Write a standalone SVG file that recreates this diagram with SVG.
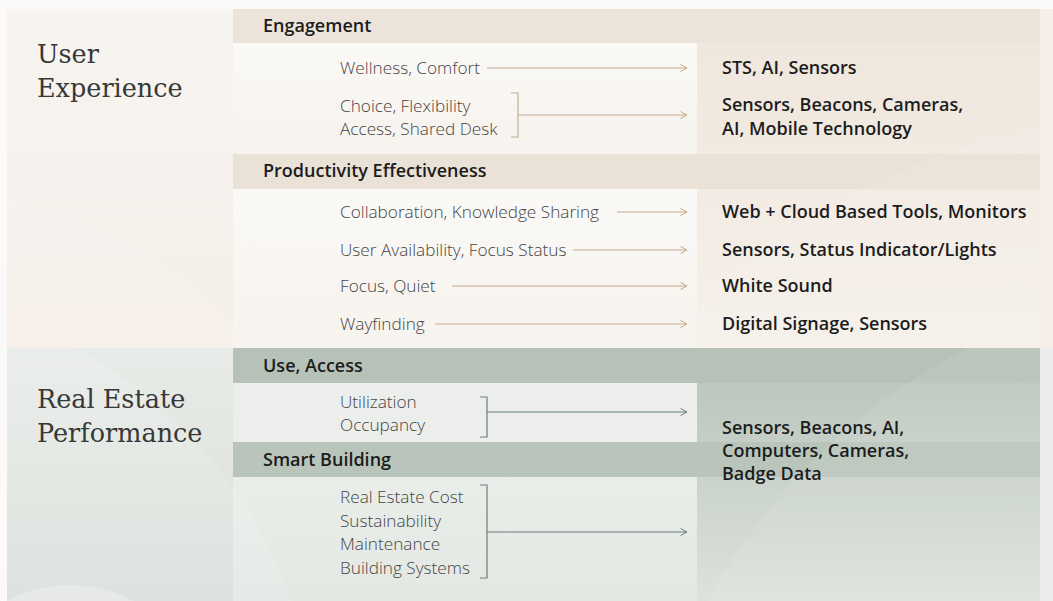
<svg xmlns="http://www.w3.org/2000/svg" width="1053" height="601" viewBox="0 0 1053 601">
  <defs>
    <linearGradient id="topRight" x1="0" y1="0" x2="0" y2="1">
      <stop offset="0" stop-color="#efe6dc"/>
      <stop offset="1" stop-color="#f6f0ea"/>
    </linearGradient>
    <linearGradient id="topLeft" x1="0" y1="0" x2="0" y2="1">
      <stop offset="0" stop-color="#f7f5f1"/>
      <stop offset="1" stop-color="#f5eee8"/>
    </linearGradient>
    <linearGradient id="botRight" x1="0" y1="0" x2="0" y2="1">
      <stop offset="0" stop-color="#b7c3b9"/>
      <stop offset="1" stop-color="#dce2dc"/>
    </linearGradient>
    <linearGradient id="botLeft" x1="0" y1="0" x2="0" y2="1">
      <stop offset="0" stop-color="#e8ece8"/>
      <stop offset="1" stop-color="#dadfda"/>
    </linearGradient>
    <linearGradient id="boxTop" x1="0" y1="0" x2="0" y2="1">
      <stop offset="0" stop-color="#faf9f6"/>
      <stop offset="1" stop-color="#f7f3ee"/>
    </linearGradient>
    <linearGradient id="boxBot" x1="0" y1="0" x2="0" y2="1">
      <stop offset="0" stop-color="#eaeeea"/>
      <stop offset="1" stop-color="#e3e8e3"/>
    </linearGradient>
    <clipPath id="topClip"><rect x="7" y="9" width="1033" height="339"/></clipPath>
    <clipPath id="botClip"><rect x="7" y="348" width="1033" height="253"/></clipPath>
    <marker id="headBeige" markerWidth="10" markerHeight="10" refX="8" refY="5" orient="auto" markerUnits="userSpaceOnUse">
      <path d="M1.5,1.5 L8,5 L1.5,8.5" fill="none" stroke="#c6ab8f" stroke-width="1"/>
    </marker>
    <marker id="headSage" markerWidth="10" markerHeight="10" refX="8" refY="5" orient="auto" markerUnits="userSpaceOnUse">
      <path d="M1.5,1.5 L8,5 L1.5,8.5" fill="none" stroke="#6a7f78" stroke-width="1"/>
    </marker>
  </defs>
  <style>
    .title { font-family: "DejaVu Serif", "Liberation Serif", serif; font-size: 25.5px; fill: #383838; }
    .head { font-family: "Open Sans", "Noto Sans", sans-serif; font-weight: 600; font-size: 18px; fill: #1c1c1c; }
    .item { font-family: "Open Sans", "Noto Sans", sans-serif; font-weight: 300; font-size: 17.2px; fill: #454545; }
    .tech { font-family: "Open Sans", "Noto Sans", sans-serif; font-weight: 600; font-size: 18px; fill: #1c1c1c; }
    .beige { stroke: #c6ab8f; stroke-width: 1.2; fill: none; }
    .sage { stroke: #6a7f78; stroke-width: 1.2; fill: none; }
    .arrowBeige { marker-end: url(#headBeige); }
    .arrowSage { marker-end: url(#headSage); }
  </style>

  <!-- page and section panels -->
  <g id="background">
    <rect x="0" y="0" width="1053" height="601" fill="#fbfaf8"/>
    <rect x="1040" y="9" width="13" height="339" fill="#f6efe9"/>
    <rect x="1040" y="348" width="13" height="253" fill="#eaede9"/>
    <rect x="7" y="9" width="1033" height="339" fill="url(#topRight)"/>
    <rect x="7" y="9" width="226" height="339" fill="url(#topLeft)"/>
    <rect x="7" y="348" width="1033" height="253" fill="url(#botRight)"/>
    <rect x="7" y="348" width="226" height="253" fill="url(#botLeft)"/>
  </g>

  <!-- category bars and item boxes -->
  <g id="bars">
    <rect x="233" y="9" width="807" height="34" fill="#ece4da"/>
    <rect x="233" y="43" width="464" height="111" fill="url(#boxTop)"/>
    <rect x="233" y="154" width="807" height="35" fill="#ebe2d7"/>
    <rect x="233" y="189" width="464" height="159" fill="url(#boxTop)"/>
    <rect x="233" y="348" width="807" height="35" fill="#b6c2b8"/>
    <rect x="233" y="383" width="464" height="59" fill="#ebeeeb"/>
    <rect x="233" y="442" width="807" height="35" fill="#b9c5bb"/>
    <rect x="233" y="477" width="464" height="124" fill="url(#boxBot)"/>
  </g>

  <!-- soft arcs in the backdrop -->
  <g id="arcs">
    <g clip-path="url(#topClip)">
      <circle cx="-120" cy="700" r="520" fill="#ffffff" opacity="0.10"/>
      <circle cx="1150" cy="760" r="640" fill="#ffffff" opacity="0.08"/>
    </g>
    <g clip-path="url(#botClip)">
      <circle cx="-150" cy="760" r="470" fill="#ffffff" opacity="0.12"/>
      <circle cx="70" cy="720" r="135" fill="#ffffff" opacity="0.25"/>
      <circle cx="1250" cy="900" r="620" fill="#ffffff" opacity="0.08"/>
    </g>
  </g>

  <!-- section titles -->
  <g id="user-experience">
    <text class="title" x="37" y="63">User</text>
    <text class="title" x="37" y="97">Experience</text>
  </g>
  <g id="real-estate-performance">
    <text class="title" x="37" y="408">Real Estate</text>
    <text class="title" x="37" y="442">Performance</text>
  </g>

  <!-- User Experience -->
  <g id="engagement">
    <text class="head" x="263" y="32">Engagement</text>
  </g>
  <g id="wellness">
    <text class="item" x="340" y="74">Wellness, Comfort</text>
  </g>
  <g id="wellness-tech">
    <text class="tech" x="722" y="74">STS, AI, Sensors</text>
  </g>
  <g id="choice">
    <text class="item" x="340" y="112">Choice, Flexibility</text>
    <text class="item" x="340" y="135">Access, Shared Desk</text>
  </g>
  <g id="choice-tech">
    <text class="tech" x="722" y="111">Sensors, Beacons, Cameras,</text>
    <text class="tech" x="722" y="135">AI, Mobile Technology</text>
  </g>

  <g id="productivity">
    <text class="head" x="263" y="177">Productivity Effectiveness</text>
  </g>
  <g id="collaboration">
    <text class="item" x="340" y="218">Collaboration, Knowledge Sharing</text>
  </g>
  <g id="collaboration-tech">
    <text class="tech" x="722" y="218">Web + Cloud Based Tools, Monitors</text>
  </g>
  <g id="availability">
    <text class="item" x="340" y="256">User Availability, Focus Status</text>
  </g>
  <g id="availability-tech">
    <text class="tech" x="722" y="256">Sensors, Status Indicator/Lights</text>
  </g>
  <g id="focus">
    <text class="item" x="340" y="292">Focus, Quiet</text>
  </g>
  <g id="focus-tech">
    <text class="tech" x="722" y="292">White Sound</text>
  </g>
  <g id="wayfinding">
    <text class="item" x="340" y="330">Wayfinding</text>
  </g>
  <g id="wayfinding-tech">
    <text class="tech" x="722" y="330">Digital Signage, Sensors</text>
  </g>

  <!-- Real Estate Performance -->
  <g id="use-access">
    <text class="head" x="263" y="372">Use, Access</text>
  </g>
  <g id="utilization">
    <text class="item" x="340" y="408">Utilization</text>
    <text class="item" x="340" y="431">Occupancy</text>
  </g>
  <g id="smart-building">
    <text class="head" x="263" y="466">Smart Building</text>
  </g>
  <g id="building-items">
    <text class="item" x="340" y="503">Real Estate Cost</text>
    <text class="item" x="340" y="526.5">Sustainability</text>
    <text class="item" x="340" y="550">Maintenance</text>
    <text class="item" x="340" y="573.5">Building Systems</text>
  </g>
  <g id="building-tech">
    <text class="tech" x="722" y="434">Sensors, Beacons, AI,</text>
    <text class="tech" x="722" y="457">Computers, Cameras,</text>
    <text class="tech" x="722" y="480">Badge Data</text>
  </g>

  <!-- connectors -->
  <g id="connectors">
    <line class="beige arrowBeige" x1="487" y1="68" x2="687" y2="68"/>
    <path class="beige" d="M511,93 H518 V137 H511"/>
    <line class="beige arrowBeige" x1="518" y1="115" x2="687" y2="115"/>
    <line class="beige arrowBeige" x1="617" y1="212" x2="687" y2="212"/>
    <line class="beige arrowBeige" x1="573" y1="250" x2="687" y2="250"/>
    <line class="beige arrowBeige" x1="452" y1="286" x2="687" y2="286"/>
    <line class="beige arrowBeige" x1="435" y1="324" x2="687" y2="324"/>
    <path class="sage" d="M480,397 H487 V437 H480"/>
    <line class="sage arrowSage" x1="487" y1="412" x2="687" y2="412"/>
    <path class="sage" d="M480,485 H487 V578 H480"/>
    <line class="sage arrowSage" x1="487" y1="532" x2="687" y2="532"/>
  </g>
</svg>
